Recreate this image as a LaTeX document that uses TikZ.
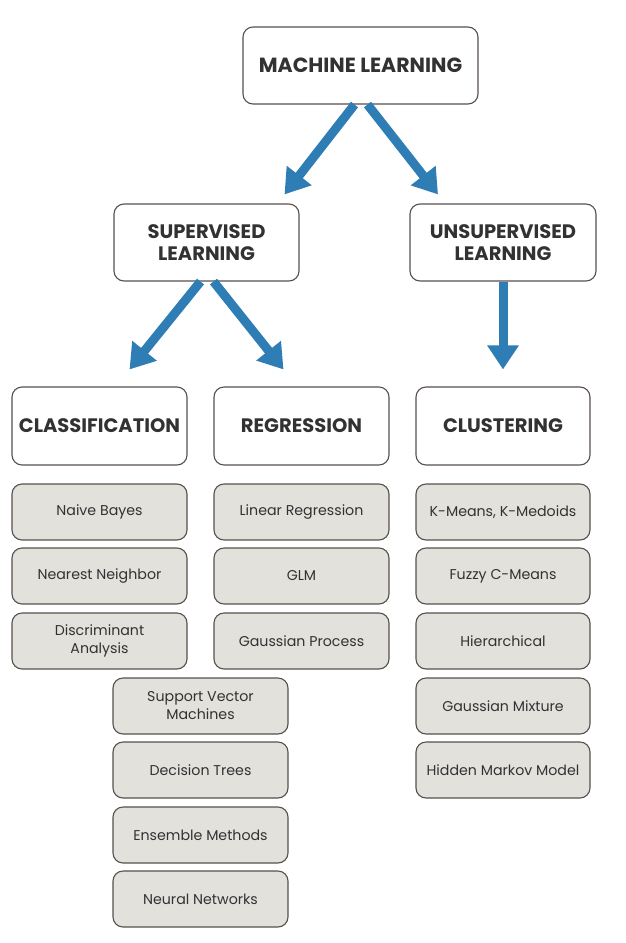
\documentclass[tikz,border=0pt]{standalone}
\usepackage{fontspec}
\setmainfont{Poppins}
\usetikzlibrary{arrows.meta}
\definecolor{arrowblue}{RGB}{47,125,181}
\definecolor{boxline}{RGB}{88,80,78}
\definecolor{boxgrey}{RGB}{227,225,220}
\definecolor{textdark}{RGB}{50,50,50}
\begin{document}
\begin{tikzpicture}[x=1pt,y=-1pt,
	head/.style={draw=boxline,line width=1.1pt,rounded corners=10pt,fill=white,text=textdark,
		minimum width=175pt,minimum height=78pt,inner sep=0pt,align=center,
		font=\fontsize{19.5}{22}\selectfont\bfseries},
	algo/.style={draw=boxline,line width=1.1pt,rounded corners=10pt,fill=boxgrey,text=textdark,
		minimum width=175pt,minimum height=56pt,inner sep=0pt,align=center,
		font=\fontsize{14.2}{18}\selectfont},
	bigarrow/.style={draw=arrowblue,line width=9pt,-{Triangle[length=24pt,width=30pt]}}]
	\useasboundingbox (0,0) rectangle (625,943);
	% top level
	\node[head,minimum width=235pt,minimum height=77pt,font=\fontsize{20.5}{22}\selectfont\bfseries] (ml) at (360.5,65.5) {MACHINE LEARNING};
	\node[head,minimum width=185pt,minimum height=77pt] (sup) at (206.5,242.5) {SUPERVISED\\LEARNING};
	\node[head,minimum width=186pt,minimum height=77pt] (unsup) at (503,242.5) {UNSUPERVISED\\LEARNING};
	% second level
	\node[head] (cls) at (99.5,426) {CLASSIFICATION};
	\node[head] (reg) at (301.5,426) {REGRESSION};
	\node[head,minimum width=174pt] (clu) at (503,426) {CLUSTERING};

	% classification
	\node[algo] (nb) at (99.5,512) {Naive Bayes};
	\node[algo] (nn) at (99.5,576) {Nearest Neighbor};
	\node[algo] (da) at (99.5,641) {Discriminant\\Analysis};
	\node[algo] (svm) at (200.5,706) {Support Vector\\Machines};
	\node[algo] (dt) at (200.5,770) {Decision Trees};
	\node[algo] (em) at (200.5,835) {Ensemble Methods};
	\node[algo] (nnet) at (200.5,899) {Neural Networks};
	% regression
	\node[algo] (lr) at (301.5,512) {Linear Regression};
	\node[algo] (glm) at (301.5,576) {GLM};
	\node[algo] (gp) at (301.5,641) {Gaussian Process};
	% clustering
	\node[algo,minimum width=174pt] (km) at (503,512) {K-Means, K-Medoids};
	\node[algo,minimum width=174pt] (fcm) at (503,576) {Fuzzy C-Means};
	\node[algo,minimum width=174pt] (hier) at (503,641) {Hierarchical};
	\node[algo,minimum width=174pt] (gm) at (503,706) {Gaussian Mixture};
	\node[algo,minimum width=174pt] (hmm) at (503,770) {Hidden Markov Model};

	% arrows
	\draw[bigarrow] ([xshift=-6pt]ml.south) -- ([xshift=78pt,yshift=9pt]sup.north);
	\draw[bigarrow] ([xshift=7pt]ml.south) -- ([xshift=-65pt,yshift=9pt]unsup.north);
	\draw[bigarrow] ([xshift=-6pt]sup.south) -- ([xshift=30pt,yshift=17pt]cls.north);
	\draw[bigarrow] ([xshift=7pt]sup.south) -- ([xshift=-18pt,yshift=17pt]reg.north);
	\draw[bigarrow] (unsup.south) -- ([yshift=17pt]clu.north);
\end{tikzpicture}
\end{document}
